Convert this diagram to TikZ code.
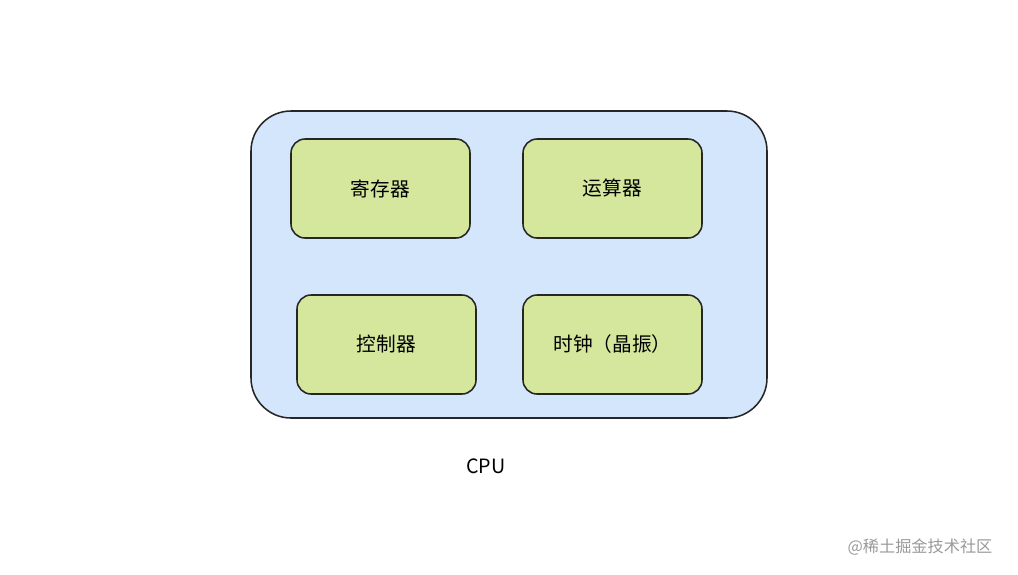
\documentclass[tikz,border=0pt]{standalone}
\usepackage{fontspec}
\setmainfont{Noto Sans CJK SC}
\definecolor{outerblue}{HTML}{D4E6FB}
\definecolor{innergreen}{HTML}{D4E79D}
\tikzset{
  unit/.style={draw=black!85, line width=1.1pt, fill=innergreen, rounded corners=10pt, minimum width=179*0.025cm, minimum height=99*0.025cm, font=\fontsize{14pt}{16pt}\selectfont},
}
\begin{document}
\begin{tikzpicture}[x=0.025cm,y=-0.025cm]
\useasboundingbox (0,0) rectangle (1018,574);
\node[draw=black!85, line width=1.1pt, fill=outerblue, rounded corners=40*0.025cm, minimum width=516*0.025cm, minimum height=307*0.025cm] (cpu) at (509,264.5) {};
\node[unit] (reg) at (380.5,188.5) {寄存器};
\node[unit] (alu) at (612.5,188.5) {运算器};
\node[unit] (ctl) at (386.5,344.5) {控制器};
\node[unit] (clk) at (612.5,344.5) {时钟（晶振）};
\node[font=\fontsize{14pt}{16pt}\selectfont] (lbl) at (486,466) {CPU};
\node[font=\fontsize{11.5pt}{13pt}\selectfont, text=black!40] (wm) at (920,547) {@稀土掘金技术社区};
\end{tikzpicture}
\end{document}
